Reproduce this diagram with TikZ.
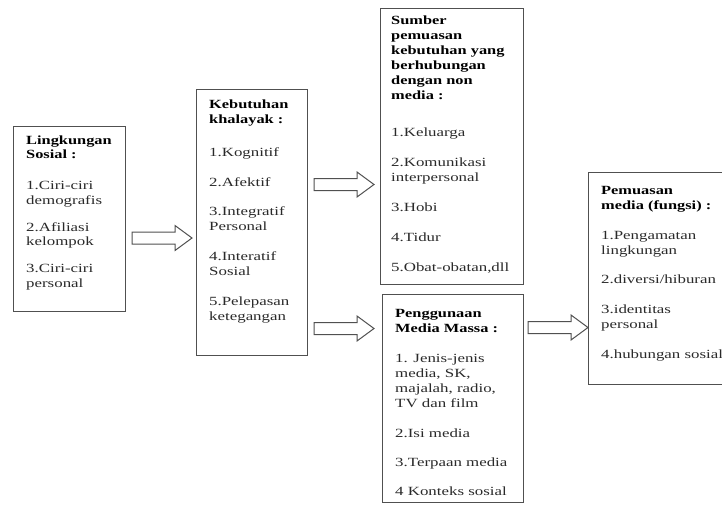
\documentclass[tikz,border=0pt]{standalone}
\usepackage{fontspec}
\setmainfont{Liberation Serif}[FakeStretch=1.35,BoldFeatures={FakeStretch=1.31}]
\usetikzlibrary{calc}
\definecolor{edge}{HTML}{505050}
\definecolor{itemtext}{HTML}{2A2A2A}
\tikzset{
  box/.style={draw=edge, line width=1.2pt, fill=white, rectangle, inner sep=0pt, anchor=north west},
  txt/.style={anchor=north west, inner sep=0pt, align=left, text=itemtext,
              font=\fontsize{12.5}{15}\selectfont},
  arr/.style={draw=edge, line width=1pt, fill=white, line join=miter},
}
\newcommand\hd[1]{\textcolor{black}{\textbf{#1}}}
% hollow block arrow from coordinate #1 (tail, centre line) to coordinate #2 (tip)
\newcommand\blockarrow[2]{%
  \draw[arr] let \p1=(#1), \p2=(#2) in
    (\x1,\y1+6pt) -- (\x2-17pt,\y1+6pt) -- (\x2-17pt,\y1+12.5pt) -- (\x2,\y1)
    -- (\x2-17pt,\y1-12.5pt) -- (\x2-17pt,\y1-6pt) -- (\x1,\y1-6pt) -- cycle;}
\begin{document}
\begin{tikzpicture}[x=1pt,y=-1pt]
\clip (0,0) rectangle (722,504);
\fill[white] (0,0) rectangle (722,504);

% boxes
\node[box, minimum width=112pt, minimum height=185pt] (b1) at (13,126) {};
\node[box, minimum width=111pt, minimum height=266pt] (b2) at (196,89) {};
\node[box, minimum width=143pt, minimum height=276pt] (b3) at (380,8) {};
\node[box, minimum width=141pt, minimum height=208pt] (b4) at (382,294) {};
\node[box, minimum width=140pt, minimum height=212pt] (b5) at (588,172) {};

% texts
\node[txt, font=\fontsize{12.5}{14.5}\selectfont] (t1) at (26,135.5)
  {\hd{Lingkungan}\\ \hd{Sosial :}\\[16.5pt] 1.Ciri-ciri\\ demografis\\[12.5pt]
   2.Afiliasi\\ kelompok\\[12.5pt] 3.Ciri-ciri\\ personal};
\node[txt] (t2) at (209,99.5)
  {\hd{Kebutuhan}\\ \hd{khalayak :}\\[18pt] 1.Kognitif\\[15pt] 2.Afektif\\[14pt]
   3.Integratif\\ Personal\\[15pt] 4.Interatif\\ Sosial\\[15pt]
   5.Pelepasan\\ ketegangan};
\node[txt] (t3) at (391,15.5)
  {\hd{Sumber}\\ \hd{pemuasan}\\ \hd{kebutuhan yang}\\ \hd{berhubungan}\\
   \hd{dengan non}\\ \hd{media :}\\[22pt] 1.Keluarga\\[15pt] 2.Komunikasi\\ interpersonal\\[15pt]
   3.Hobi\\[15pt] 4.Tidur\\[15pt] 5.Obat-obatan,dll};
\node[txt] (t4) at (395,308.7)
  {\hd{Penggunaan}\\ \hd{Media Massa :}\\[15pt] 1. Jenis-jenis\\ media, SK,\\
   majalah, radio,\\ TV dan film\\[15pt] 2.Isi media\\[14pt] 3.Terpaan media\\[14pt]
   4 Konteks sosial};
\node[txt] (t5) at (601,185.7)
  {\hd{Pemuasan}\\ \hd{media (fungsi) :}\\[15pt] 1.Pengamatan\\ lingkungan\\[14pt]
   2.diversi/hiburan\\[15pt] 3.identitas\\ personal\\[15pt] 4.hubungan sosial};

% arrow end points
\coordinate (a1s) at ($(b1.north east)+(6,112)$);
\coordinate (a1e) at ($(b2.north west)+(-4,149)$);
\coordinate (a2s) at ($(b2.north east)+(6,95.5)$);
\coordinate (a2e) at ($(b3.north west)+(-6,176.5)$);
\coordinate (a3s) at ($(b2.north east)+(6,239.5)$);
\coordinate (a3e) at ($(b4.north west)+(-8,34.5)$);
\coordinate (a4s) at ($(b4.north east)+(4,33.5)$);
\coordinate (a4e) at ($(b5.north west)+(0,155.5)$);

\blockarrow{a1s}{a1e}
\blockarrow{a2s}{a2e}
\blockarrow{a3s}{a3e}
\blockarrow{a4s}{a4e}
\end{tikzpicture}
\end{document}
